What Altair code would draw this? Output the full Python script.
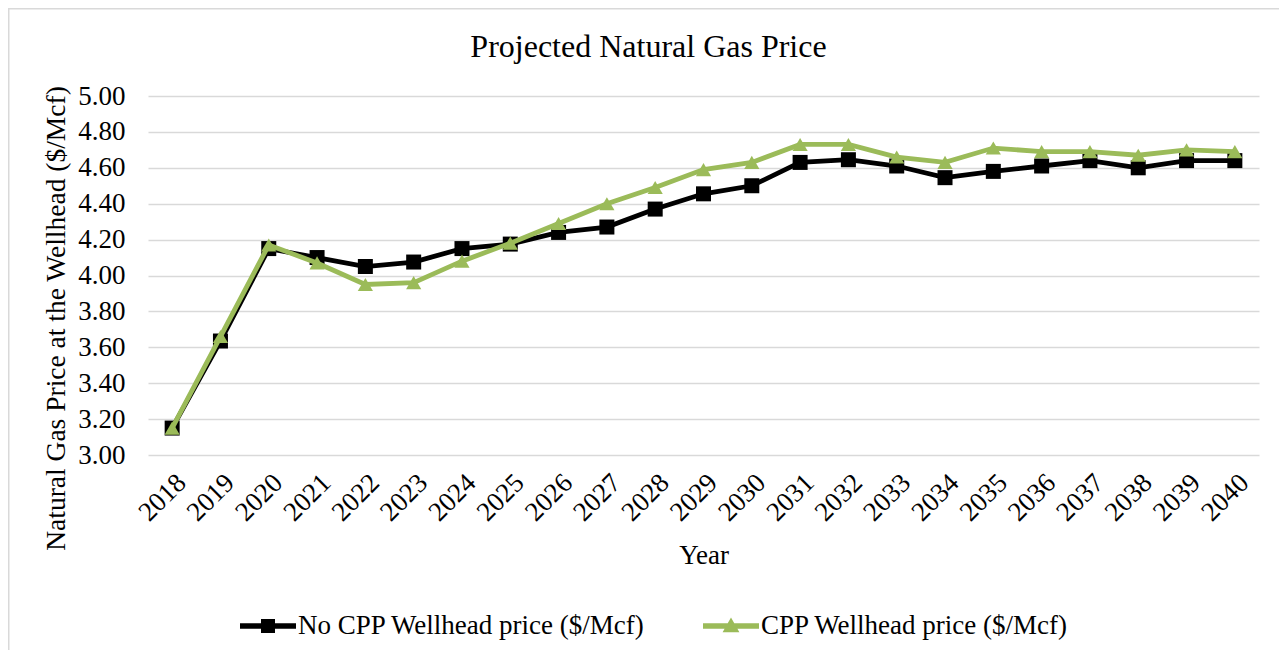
import altair as alt
import pandas as pd

years = [str(y) for y in range(2018, 2041)]
no_cpp = [3.15, 3.635, 4.15, 4.10, 4.05, 4.075, 4.15, 4.175, 4.24, 4.27, 4.37, 4.455,
          4.50, 4.63, 4.645, 4.61, 4.545, 4.58, 4.61, 4.64, 4.60, 4.64, 4.64]
cpp = [3.15, 3.66, 4.17, 4.07, 3.95, 3.96, 4.08, 4.18, 4.29, 4.40, 4.49, 4.59,
       4.63, 4.73, 4.73, 4.66, 4.63, 4.71, 4.69, 4.69, 4.67, 4.70, 4.69]
series_names = ["No CPP Wellhead price ($/Mcf)", "CPP Wellhead price ($/Mcf)"]
colors = ["#000000", "#9BBB59"]
y_ticks = [3.0, 3.2, 3.4, 3.6, 3.8, 4.0, 4.2, 4.4, 4.6, 4.8, 5.0]

rows = []
for name, vals in zip(series_names, [no_cpp, cpp]):
    for yr, v in zip(years, vals):
        rows.append({"Year": yr, "Series": name, "Price": v})
df = pd.DataFrame(rows)

FONT = "Liberation Serif"
FS = 27
W, H = 1111, 359

x_enc = alt.X("Year:O", sort=years,
              scale=alt.Scale(type="point", padding=0.5),
              axis=alt.Axis(title="Year", labelAngle=-45, labelFontSize=FS, titleFontSize=FS,
                            labelFont=FONT, titleFont=FONT, labelColor="#000", titleColor="#000",
                            ticks=False, tickSize=0, domain=False, grid=False,
                            labelPadding=14, titlePadding=17, titleFontWeight="normal"))
y_enc = alt.Y("Price:Q",
              scale=alt.Scale(domain=[3, 5], nice=False, zero=False),
              axis=alt.Axis(title="Natural Gas Price at the Wellhead ($/Mcf)", values=y_ticks,
                            format=".2f", labelFontSize=FS, titleFontSize=27.5,
                            labelFont=FONT, titleFont=FONT, labelColor="#000", titleColor="#000",
                            ticks=False, tickSize=0, domain=False, grid=True,
                            gridColor="#d9d9d9", gridWidth=1.5, titleY=222,
                            labelPadding=23, titlePadding=7, titleFontWeight="normal"))

base = alt.Chart(df)

def series_layers(name, color, shape, size):
    sub = base.transform_filter(alt.datum.Series == name)
    line = sub.mark_line(color=color, strokeWidth=4.8).encode(x=x_enc, y=y_enc)
    pts = sub.mark_point(color=color, shape=shape, filled=True, size=size, opacity=1).encode(x=x_enc, y=y_enc)
    return [line, pts]

path_sq = "M-1,-0.1L1,-0.1L1,0.1L-1,0.1Z M-0.25,-0.25L0.25,-0.25L0.25,0.25L-0.25,0.25Z"
path_tri = "M-1,-0.1L1,-0.1L1,0.1L-1,0.1Z M0,-0.3L0.3,0.22L-0.3,0.22Z"

# legend-only layer: no rows drawn, legend entries come from the explicit scale domain
legend_layer = base.transform_filter("false").mark_point(filled=True, opacity=1).encode(
    x=x_enc, y=y_enc,
    color=alt.Color("Series:N", scale=alt.Scale(domain=series_names, range=colors),
                    legend=alt.Legend(title=None, orient="none", direction="horizontal",
                                      legendX=92, legendY=502, labelFont=FONT, labelFontSize=FS,
                                      labelColor="#000", symbolSize=3136, symbolOpacity=1,
                                      symbolStrokeWidth=0, labelOffset=2, columnPadding=57,
                                      padding=0, labelLimit=600)),
    shape=alt.Shape("Series:N", scale=alt.Scale(domain=series_names, range=[path_sq, path_tri])),
)

frame = alt.Chart(pd.DataFrame({"a": [0]})).mark_rect(
    fill=None, stroke="#d9d9d9", strokeWidth=1.5
).encode(x=alt.value(-139.25), x2=alt.value(W + 200), y=alt.value(-87.25), y2=alt.value(H + 300))

layers = [frame] + series_layers(series_names[0], colors[0], "square", 225) + \
         series_layers(series_names[1], colors[1], "triangle-up", 230) + [legend_layer]

chart = alt.layer(*layers).properties(
    width=W, height=H,
    title=alt.TitleParams("Projected Natural Gas Price", font=FONT, fontSize=32, color="#000",
                          fontWeight="normal", anchor="middle", frame="group", dx=-55,
                          offset=-81, baseline="alphabetic"),
    autosize=alt.AutoSizeParams(type="none"),
    padding={"left": 140, "top": 88, "right": 20, "bottom": 195},
).configure_view(stroke=None)

chart.save("out.html", embed_options={"renderer": "svg", "actions": False})
